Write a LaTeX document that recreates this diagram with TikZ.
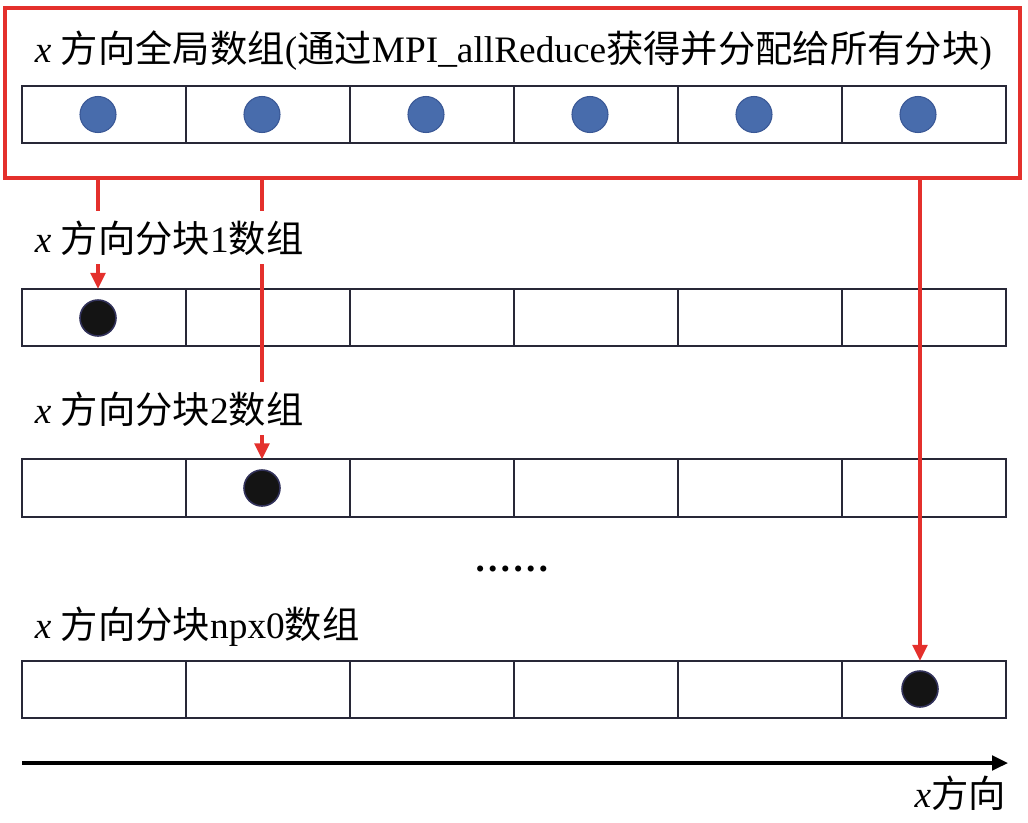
\documentclass[tikz,border=0pt]{standalone}
\usepackage{fontspec}
\setmainfont{Liberation Serif}
\newfontfamily\cjkfont{Noto Sans CJK SC}
\newcommand\zh[1]{{\cjkfont #1}}
\usetikzlibrary{arrows.meta}
\definecolor{redc}{RGB}{228,48,44}
\definecolor{cellc}{RGB}{40,40,55}
\definecolor{bluef}{RGB}{72,108,172}
\definecolor{blued}{RGB}{58,88,150}
\definecolor{dotd}{RGB}{50,50,90}
\begin{document}
\begin{tikzpicture}[x=0.75pt,y=-0.75pt,
 cell/.style={draw=cellc,line width=1.5pt,minimum width=123pt,minimum height=43pt,inner sep=0pt,outer sep=0pt},
 bdot/.style={circle,fill=bluef,draw=blued,line width=0.8pt,minimum size=27pt,inner sep=0pt},
 kdot/.style={circle,fill=black!92,draw=dotd,line width=1.2pt,minimum size=27pt,inner sep=0pt},
 txt/.style={font=\fontsize{28pt}{31pt}\selectfont},
 lab/.style={txt,fill=white,inner xsep=2pt,inner ysep=7pt,anchor=base west},
 redbox/.style={draw=redc,line width=2.6pt,minimum width=761pt,minimum height=127.5pt,inner sep=0pt},
 redarrow/.style={draw=redc,line width=2.6pt,-{Triangle[length=12pt,width=11pt]}},
 axisarrow/.style={line width=2.4pt,-{Triangle[length=12pt,width=11pt]}}]
\useasboundingbox (0,0) rectangle (1028,822);
% red frame
\node[redbox] (glob) at (512.5,93) {};
% arrays
\foreach \r/\y in {0/114.5,1/317.5,2/488,3/689.5}{
  \foreach \i in {1,...,6}{
    \node[cell] (c\r-\i) at ({104+164*(\i-1)},\y) {};
  }
}
% global dots
\foreach \i in {1,...,6}{
  \node[bdot] (g\i) at ({98+164*(\i-1)},114.5) {};
}
% block dots
\node[kdot] (d1) at (98,318) {};
\node[kdot] (d2) at (262,488) {};
\node[kdot] (d3) at (920,689) {};
% arrows
\draw[redarrow] (glob.south -| d1) -- (c1-1.north -| d1);
\draw[redarrow] (glob.south -| d2) -- (c2-2.north -| d2);
\draw[redarrow] (glob.south -| d3) -- (c3-6.north -| d3);
% labels
\node[txt,anchor=base west,inner xsep=2pt] (t0) at (32,62) {\textit{x} \zh{方向全局数组}(\zh{通过}MPI\_allReduce\zh{获得并分配给所有分块})};
\node[lab] (t1) at (32,252) {\textit{x} \zh{方向分块}1\zh{数组}};
\node[lab] (t2) at (32,423) {\textit{x} \zh{方向分块}2\zh{数组}};
\node[lab] (t3) at (32,638) {\textit{x} \zh{方向分块}npx0\zh{数组}};
\node[txt,anchor=base,inner sep=0pt] (dots) at (512,571) {\textbf{……}};
% axis
\coordinate (a0) at (22,763);
\coordinate (a1) at (1008,763);
\draw[axisarrow] (a0) -- (a1);
\node[txt,anchor=base east,inner sep=0pt] (xl) at (1006,807) {\textit{x}\zh{方向}};
\end{tikzpicture}
\end{document}
